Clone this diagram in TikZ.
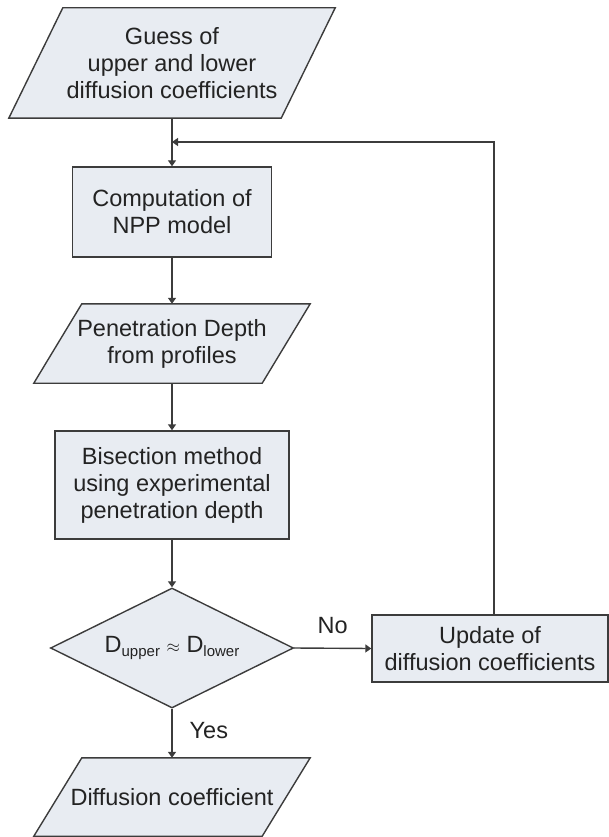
\documentclass[tikz,border=0pt]{standalone}
\usepackage{fontspec}
\setmainfont{Liberation Sans}
\usetikzlibrary{shapes.geometric,arrows.meta,calc,backgrounds}
\definecolor{boxfill}{RGB}{232,236,242}
\definecolor{boxline}{RGB}{60,60,60}
\definecolor{txt}{RGB}{35,35,35}
\begin{document}
\begin{tikzpicture}[x=1pt,y=1pt,
  txtstyle/.style={text=txt, font=\fontsize{23.5}{27}\selectfont, align=center, inner sep=0pt},
  shapeline/.style={draw=boxline, fill=boxfill, line width=1.4pt},
  base/.style={shapeline, txtstyle},
  procbox/.style 2 args={base, rectangle, minimum width=#1, minimum height=#2},
  iotext/.style 2 args={txtstyle, rectangle, minimum width=#1, minimum height=#2},
  decbox/.style 2 args={base, diamond, aspect=2, minimum width=#1, minimum height=#2},
  arr/.style={draw=boxline, line width=1.4pt, -{Triangle[length=6pt,width=8pt]}},
  lbl/.style={txtstyle}]
\useasboundingbox (0,0) rectangle (609,-837);

% input/output texts (parallelograms drawn behind them)
\node[iotext={272}{110}] (guess) at (172,-63) {Guess of\\upper and lower\\diffusion coefficients};
\node[procbox={199}{90}] (comp) at (172,-212) {Computation of\\NPP model};
\node[iotext={228}{79}] (pen) at (172,-343.5) {Penetration Depth\\from profiles};
\node[procbox={234}{108}] (bis) at (172,-485) {Bisection method\\using experimental\\penetration depth};
\node[decbox={243}{120}] (dec) at (172,-648) {D{\fontsize{15}{17}\selectfont\raisebox{-4pt}{upper}} {\fontsize{18}{20}\selectfont$\approx$} D{\fontsize{15}{17}\selectfont\raisebox{-4pt}{lower}}};
\node[procbox={236}{67}] (upd) at (490,-648.5) {Update of\\diffusion coefficients};
\node[iotext={228}{78}] (res) at (172,-797) {Diffusion coefficient};

\begin{scope}[on background layer]
  \draw[shapeline] ($(guess.north west)+(27,0)$) -- ($(guess.north east)+(27,0)$)
    -- ($(guess.south east)-(27,0)$) -- ($(guess.south west)-(27,0)$) -- cycle;
  \draw[shapeline] ($(pen.north west)+(24,0)$) -- ($(pen.north east)+(24,0)$)
    -- ($(pen.south east)-(24,0)$) -- ($(pen.south west)-(24,0)$) -- cycle;
  \draw[shapeline] ($(res.north west)+(24,0)$) -- ($(res.north east)+(24,0)$)
    -- ($(res.south east)-(24,0)$) -- ($(res.south west)-(24,0)$) -- cycle;
\end{scope}

\coordinate (j) at (guess.south |- 0,-142);
\coordinate (fb) at ($(upd.north)+(4,0)$);

\draw[arr] (guess.south) -- (comp.north);
\draw[arr] (comp.south) -- (pen.north);
\draw[arr] (pen.south) -- (bis.north);
\draw[arr] (bis.south) -- (dec.north);
\draw[arr] (dec.east) -- node[lbl, above=14pt] (no) {No} (upd.west);
\draw[arr] (dec.south) -- node[lbl, right=17pt, pos=0.45] (yes) {Yes} (res.north);
\draw[arr] (fb) |- (j);
\end{tikzpicture}
\end{document}
